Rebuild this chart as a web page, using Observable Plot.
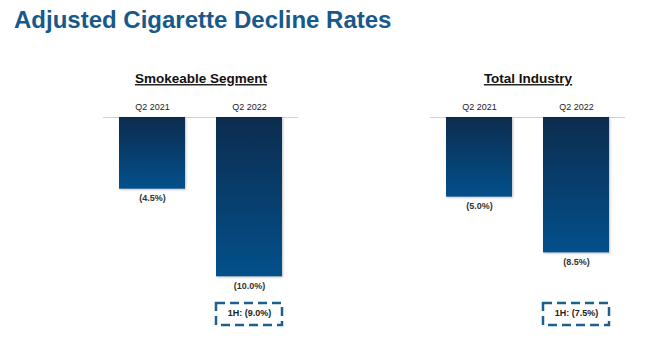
<!DOCTYPE html>
<html>
<head>
<meta charset="utf-8">
<script src="https://cdn.jsdelivr.net/npm/d3@7"></script>
<script src="https://cdn.jsdelivr.net/npm/@observablehq/plot@0.6"></script>
<style>
  html, body { margin: 0; padding: 0; background: #fff; }
  body { width: 649px; height: 355px; overflow: hidden; font-family: "Liberation Sans", Arial, sans-serif; }
  #title { height: 45px; box-sizing: border-box; padding: 6px 0 0 14px; font-size: 24px; font-weight: bold; color: #17598a; line-height: 28px; }
  text[aria-label="panel-title"] { text-decoration: underline; }
  g[aria-label="bar"] rect { filter: drop-shadow(1.5px 1.5px 1px rgba(0,0,0,0.25)); }
</style>
</head>
<body>
<div id="title">Adjusted Cigarette Decline Rates</div>
<div id="chart"></div>
<script>
const panels = ["Smokeable Segment", "Total Industry"];
const periods = ["Q2 2021", "Q2 2022"];
const smokeableValues = [-4.5, -10.0];
const industryValues = [-5.0, -8.5];
const halfYearLabels = ["1H: (9.0%)", "1H: (7.5%)"];

const seriesValues = [smokeableValues, industryValues];
const data = panels.flatMap((p, i) => periods.map((q, j) => ({panel: p, period: q, value: seriesValues[i][j]})));
const halfYear = panels.map((p, i) => ({panel: p, period: periods[1], text: halfYearLabels[i]}));
const fmt = v => `(${Math.abs(v).toFixed(1)}%)`;

const defs = () => {
  const g = d3.create("svg:defs");
  const grad = g.append("linearGradient").attr("id", "barGrad").attr("x1", 0).attr("y1", 0).attr("x2", 0).attr("y2", 1);
  grad.append("stop").attr("offset", "0%").attr("stop-color", "#0c2c4e");
  grad.append("stop").attr("offset", "100%").attr("stop-color", "#03508b");
  return g.node();
};

const chart = Plot.plot({
  width: 649,
  height: 310,
  marginTop: 72,
  marginBottom: 15,
  marginLeft: 103,
  marginRight: 24,
  style: {fontFamily: "'Liberation Sans', Arial, sans-serif", background: "#fff"},
  fx: {domain: panels, paddingInner: 0.404, paddingOuter: 0, axis: null},
  x: {domain: periods, paddingInner: 0.32, paddingOuter: 0.155, axis: null},
  y: {domain: [-14, 0], axis: null},
  marks: [
    defs,
    Plot.ruleY([0], {stroke: "#d0d0d0", strokeWidth: 1}),
    Plot.barY(data, {fx: "panel", x: "period", y: "value", fill: "url(#barGrad)"}),
    Plot.axisX({anchor: "top", tickSize: 0, tickPadding: 8, fontSize: 9, color: "#222", label: null}),
    Plot.text(panels, {fx: d => d, text: d => d, ariaLabel: () => "panel-title", frameAnchor: "top", dy: -44, fontSize: 13.5, fontWeight: "bold", fill: "#111"}),
    Plot.text(data, {fx: "panel", x: "period", y: "value", text: d => fmt(d.value), dy: 9, fontSize: 9, fontWeight: "bold", fill: "#333"}),
    Plot.rect(halfYear, {fx: "panel", x: "period", insetTop: 186, insetBottom: 15, fill: "none", stroke: "#1d5f91", strokeWidth: 2.5, strokeDasharray: "9,5"}),
    Plot.text(halfYear, {fx: "panel", x: "period", text: "text", frameAnchor: "bottom", dy: -25, fontSize: 9, fontWeight: "bold", fill: "#222"})
  ]
});
document.getElementById("chart").appendChild(chart);
</script>
</body>
</html>
